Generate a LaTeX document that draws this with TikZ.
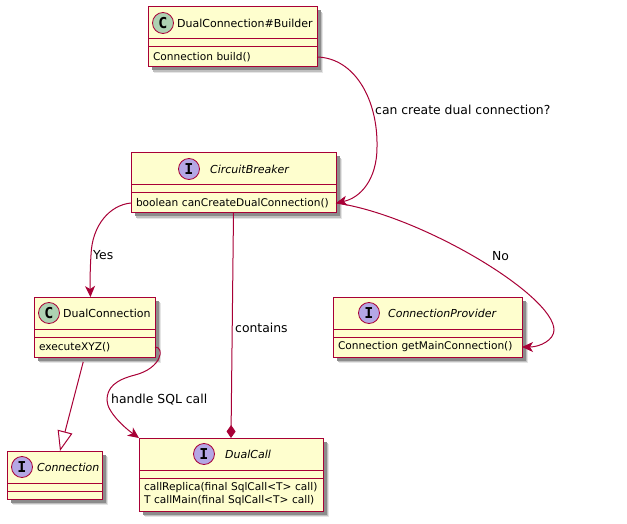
\documentclass[tikz,border=0pt]{standalone}
\usepackage{fontspec}
\setmainfont{DejaVu Sans}
\newfontfamily\spotfont{DejaVu Sans Mono}
\usetikzlibrary{positioning, arrows.meta, shadows}
\definecolor{umlline}{HTML}{A80036}
\definecolor{umlfill}{HTML}{FEFECE}
\definecolor{classspot}{HTML}{ADD1B2}
\definecolor{ifacespot}{HTML}{B4A7E5}
\tikzstyle{classpart} = [rectangle, draw=umlline, fill=umlfill, line width=1pt, outer sep=0pt, inner sep=0pt, general shadow={shadow xshift=6pt, shadow yshift=-6pt, fill=black!10}, general shadow={shadow xshift=5pt, shadow yshift=-5pt, fill=black!25}, general shadow={shadow xshift=3.5pt, shadow yshift=-3.5pt, fill=black!45}]
\tikzstyle{classhead} = [classpart, minimum height=32pt]
\tikzstyle{classgap} = [classpart, minimum height=8pt]
\tikzstyle{classbody} = [classpart, minimum height=20pt, font=\fontsize{10.6}{13}\selectfont, align=left, inner xsep=5pt]
\tikzstyle{spot} = [circle, draw=umlline, line width=.8pt, minimum size=21pt, inner sep=0pt, font=\spotfont\bfseries\fontsize{15}{15}\selectfont]
\tikzstyle{classname} = [inner sep=0pt, font=\fontsize{11}{13}\selectfont]
\tikzstyle{ifacename} = [classname, font=\fontsize{11}{13}\selectfont\itshape]
\tikzstyle{lbl} = [inner sep=0pt, anchor=west, font=\fontsize{12.4}{14}\selectfont]
\tikzstyle{link} = [line width=1pt, draw=umlline, -{Stealth[length=11pt, width=10pt, inset=3pt]}]
\begin{document}
\begin{tikzpicture}[x=1pt, y=-1pt]
    \useasboundingbox (0,0) rectangle (627,524);

    \node (builderhead) [classhead, minimum width=169pt] at (232.5,23) {};
    \node (buildergap) [classgap, minimum width=169pt, below=0pt of builderhead] {};
    \node (builderbody) [classbody, text width=159pt, below=0pt of buildergap] {Connection build()};
    \node (builderspot) [spot, fill=classspot] at (163,23) {C};
    \node (buildername) [classname, right=3pt of builderspot] {DualConnection\#Builder};

    \node (breakerhead) [classhead, minimum width=205pt] at (233.5,169) {};
    \node (breakergap) [classgap, minimum width=205pt, below=0pt of breakerhead] {};
    \node (breakerbody) [classbody, text width=195pt, below=0pt of breakergap] {boolean canCreateDualConnection()};
    \node (breakerspot) [spot, fill=ifacespot] at (189,169) {I};
    \node (breakername) [ifacename, right=10pt of breakerspot] {CircuitBreaker};

    \node (dualconnhead) [classhead, minimum width=121pt] at (94.5,313) {};
    \node (dualconngap) [classgap, minimum width=121pt, below=0pt of dualconnhead] {};
    \node (dualconnbody) [classbody, text width=111pt, below=0pt of dualconngap] {executeXYZ()};
    \node (dualconnspot) [spot, fill=classspot] at (49,313) {C};
    \node (dualconnname) [classname, right=3pt of dualconnspot] {DualConnection};

    \node (providerhead) [classhead, minimum width=189pt] at (427.5,313) {};
    \node (providergap) [classgap, minimum width=189pt, below=0pt of providerhead] {};
    \node (providerbody) [classbody, text width=179pt, below=0pt of providergap] {Connection getMainConnection()};
    \node (providerspot) [spot, fill=ifacespot] at (369,313) {I};
    \node (providername) [ifacename, right=8pt of providerspot] {ConnectionProvider};

    \node (connhead) [classhead, minimum width=95pt] at (54.5,467) {};
    \node (conngap) [classgap, minimum width=95pt, below=0pt of connhead] {};
    \node (connbody) [classgap, minimum width=95pt, below=0pt of conngap] {};
    \node (connspot) [spot, fill=ifacespot] at (22,467) {I};
    \node (connname) [ifacename, right=4pt of connspot] {Connection};

    \node (callhead) [classhead, minimum width=184pt] at (231,454) {};
    \node (callgap) [classgap, minimum width=184pt, below=0pt of callhead] {};
    \node (callbody) [classbody, minimum height=33pt, text width=174pt, below=0pt of callgap] {callReplica(final SqlCall<T> call)\\T callMain(final SqlCall<T> call)};
    \node (callspot) [spot, fill=ifacespot] at (204,454) {I};
    \node (callname) [ifacename, right=10pt of callspot] {DualCall};

    \draw [link] (builderbody.east) .. controls (355,58) and (378,100) .. (377,147) .. controls (377,180) and (360,198) .. (breakerbody.east);
    \draw [link] (breakerbody.west) .. controls (110,205) and (92,225) .. (91,255) .. controls (90,270) and (90,285) .. ([xshift=-4pt]dualconnhead.north);
    \draw [link, -{Diamond[length=13pt, width=9pt]}] (breakerbody.south) -- (callhead.north);
    \draw [link] (breakerbody.east) .. controls (420,215) and (554,295) .. (554,330) .. controls (554,340) and (540,347) .. (providerbody.east);
    \draw [link, shorten <=5pt, -{Triangle[open, fill=white, length=20pt, width=15pt]}] ([xshift=-10pt]dualconnbody.south) -- ([xshift=5.5pt]connhead.north);
    \draw [link] (dualconnbody.east) .. controls (165,347) and (162,368) .. (135,375) .. controls (115,380) and (107,388) .. (107,400) .. controls (107,412) and (125,428) .. (callhead.north west);

    \node (lblcreate) [lbl] at (375,110) {can create dual connection?};
    \node (lblyes) [lbl] at (93,255) {Yes};
    \node (lblcontains) [lbl] at (235,328) {contains};
    \node (lblno) [lbl] at (492,256) {No};
    \node (lblhandle) [lbl] at (111,400) {handle SQL call};
\end{tikzpicture}
\end{document}
